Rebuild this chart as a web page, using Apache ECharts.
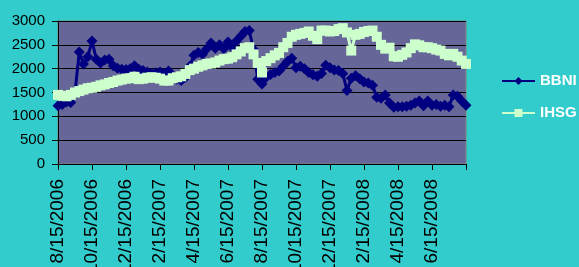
<!DOCTYPE html>
<html>
<head>
<meta charset="utf-8">
<script src="https://cdn.jsdelivr.net/npm/echarts@6/dist/echarts.min.js"></script>
<style>
	html, body { margin: 0; padding: 0; background: #33CCCC; }
	#chart { width: 579px; height: 267px; }
</style>
</head>
<body>
<div id="chart"></div>
<script>
// tick labels every 8 points (two months)
var tickLabels = ['8/15/2006', '10/15/2006', '12/15/2006', '2/15/2007', '4/15/2007', '6/15/2007',
	'8/15/2007', '10/15/2007', '12/15/2007', '2/15/2008', '4/15/2008', '6/15/2008', ''];
var yTicks = [0, 500, 1000, 1500, 2000, 2500, 3000];

var bbni = [1220, 1250, 1300, 1290, 1500, 2350, 2100, 2250, 2580, 2200,
	2120, 2180, 2200, 2060, 2010, 1990, 1980, 2000, 2060, 1990,
	1960, 1930, 1900, 1910, 1930, 1900, 1950, 1850, 1780, 1750,
	1820, 2050, 2280, 2340, 2300, 2420, 2540, 2430, 2500, 2420,
	2560, 2450, 2580, 2680, 2780, 2800, 2400, 1780, 1680, 1820,
	1880, 1920, 1950, 2050, 2150, 2220, 2020, 2050, 2000, 1920,
	1870, 1840, 1900, 2070, 2020, 1970, 1960, 1900, 1540, 1800,
	1850, 1790, 1720, 1700, 1650, 1400, 1380, 1450, 1280, 1190,
	1200, 1200, 1210, 1230, 1280, 1320, 1220, 1320, 1230, 1250,
	1210, 1230, 1200, 1450, 1420, 1320, 1230];

var ihsg = [1450, 1430, 1420, 1450, 1500, 1530, 1560, 1590, 1600, 1620,
	1650, 1670, 1700, 1720, 1750, 1770, 1790, 1800, 1830, 1780,
	1790, 1810, 1820, 1810, 1790, 1750, 1750, 1800, 1820, 1840,
	1890, 1970, 2000, 2040, 2070, 2100, 2110, 2130, 2170, 2200,
	2210, 2240, 2300, 2360, 2430, 2450, 2300, 2120, 1920, 2160,
	2220, 2280, 2330, 2450, 2540, 2670, 2710, 2730, 2750, 2780,
	2690, 2620, 2800, 2800, 2780, 2790, 2830, 2850, 2760, 2380,
	2710, 2730, 2770, 2790, 2800, 2670, 2500, 2420, 2440, 2260,
	2250, 2290, 2340, 2430, 2510, 2490, 2450, 2450, 2430, 2400,
	2380, 2310, 2280, 2310, 2250, 2170, 2100];

var categories = [];
for (var i = 0; i < bbni.length; i++) {
	categories.push(i % 8 == 0 ? tickLabels[i / 8] : '');
}

var myChart = echarts.init(document.getElementById('chart'));
var font = '"Liberation Sans", Arial, sans-serif';

var option = {
	animation: false,
	backgroundColor: '#33CCCC',
	grid: {
		left: 58,
		right: 113,
		top: 21,
		bottom: 103,
		outerBoundsMode: 'none',
		containLabel: false,
		show: true,
		backgroundColor: '#666699',
		borderColor: '#808080',
		borderWidth: 1
	},
	legend: {
		orient: 'vertical',
		left: 501,
		top: 73,
		padding: 0,
		itemWidth: 33,
		itemHeight: 10,
		itemGap: 16,
		textStyle: {color: '#ffffff', fontWeight: 'bold', fontSize: 15, fontFamily: font, lineHeight: 16},
		data: ['BBNI', 'IHSG']
	},
	xAxis: {
		type: 'category',
		data: categories,
		boundaryGap: false,
		axisLine: {lineStyle: {color: '#000000', width: 1}},
		axisTick: {interval: 7, length: 6, lineStyle: {color: '#000000'}},
		axisLabel: {
			interval: 7,
			rotate: 90,
			margin: 15,
			color: '#000000',
			fontSize: 19,
			fontFamily: font
		},
		splitLine: {show: false}
	},
	yAxis: {
		type: 'value',
		min: yTicks[0],
		max: yTicks[yTicks.length - 1],
		interval: 500,
		axisLine: {show: true, lineStyle: {color: '#000000', width: 1}},
		axisTick: {show: true, length: 6, lineStyle: {color: '#000000'}},
		axisLabel: {
			margin: 13,
			color: '#000000',
			fontSize: 15,
			fontFamily: font,
			formatter: function (v) { return String(v); }
		},
		splitLine: {lineStyle: {color: '#000000', width: 1}}
	},
	series: [
		{
			name: 'BBNI',
			type: 'line',
			data: bbni,
			symbol: 'diamond',
			symbolSize: 11,
			showAllSymbol: true,
			itemStyle: {color: '#000080'},
			lineStyle: {color: '#000080', width: 3}
		},
		{
			name: 'IHSG',
			type: 'line',
			data: ihsg,
			symbol: 'rect',
			symbolSize: 10,
			showAllSymbol: true,
			itemStyle: {color: '#CCFFCC'},
			lineStyle: {color: '#CCFFCC', width: 3}
		}
	]
};

myChart.setOption(option);
</script>
</body>
</html>
